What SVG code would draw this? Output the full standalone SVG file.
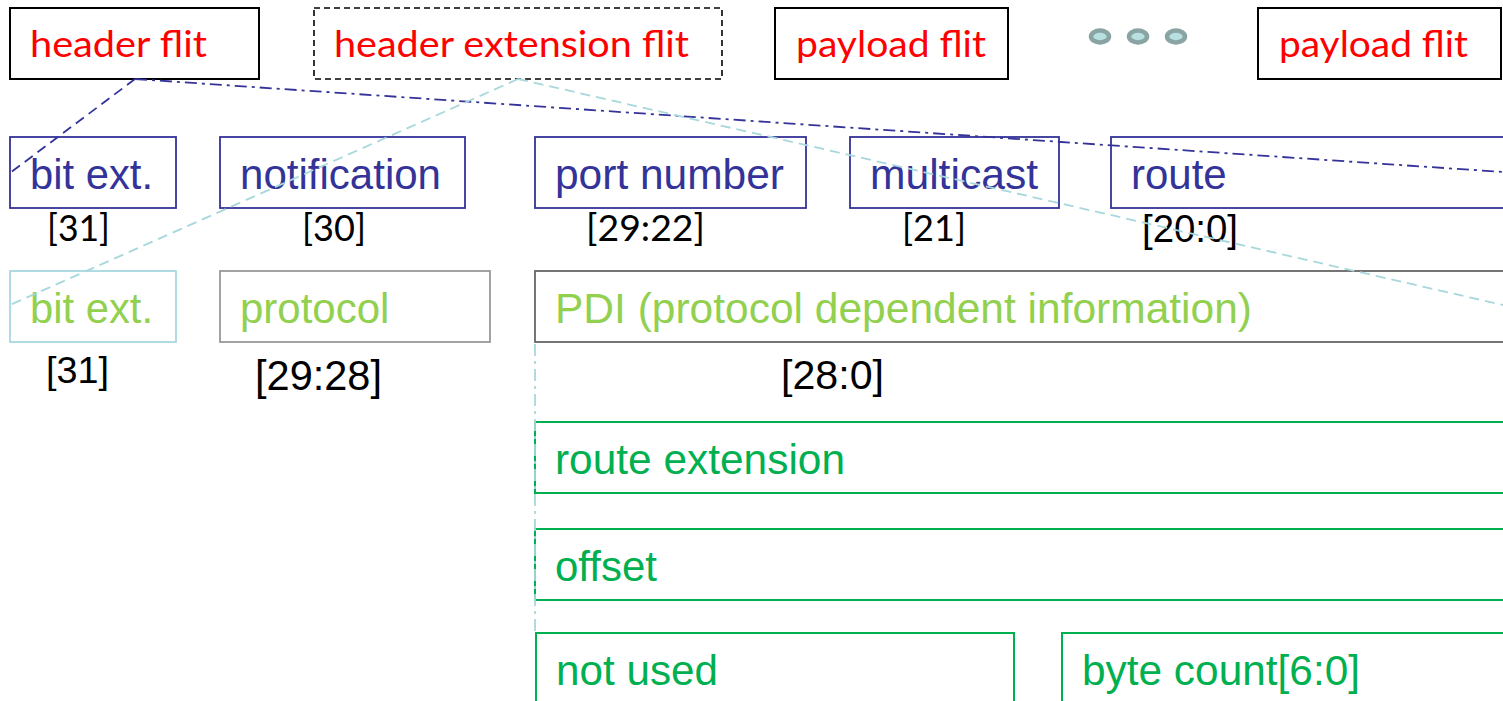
<svg xmlns="http://www.w3.org/2000/svg" width="1503" height="701" viewBox="0 0 1503 701">
  <style>
    .flit { fill: #fff; stroke: #000; stroke-width: 2; }
    .flit-opt { fill: #fff; stroke: #000; stroke-width: 1.6; stroke-dasharray: 6 4; }
    .flit-t { font-family: Lato, "Liberation Sans", sans-serif; font-size: 36px; fill: #ff0000; }
    .hdr { fill: #fff; stroke: #333399; stroke-width: 1.8; }
    .hdr-t { font-family: "Liberation Sans", Arial, sans-serif; font-size: 42px; fill: #333399; }
    .bits { font-family: Lato, "Liberation Sans", sans-serif; font-size: 37px; fill: #000; }
    .bits-a { font-family: "Liberation Sans", Arial, sans-serif; fill: #000; }
    .ext-t { font-family: "Liberation Sans", Arial, sans-serif; font-size: 42px; fill: #92d050; }
    .pl { fill: #fff; stroke: #00b050; stroke-width: 2; }
    .pl-t { font-family: "Liberation Sans", Arial, sans-serif; font-size: 42px; fill: #00b050; }
    .navy-dash { fill: none; stroke: #333399; stroke-width: 1.8; stroke-dasharray: 10 6; }
    .navy-dashdot { fill: none; stroke: #333399; stroke-width: 1.8; stroke-dasharray: 12 5 3 5; }
    .cyan-dash { fill: none; stroke: #a8d8dc; stroke-width: 1.8; stroke-dasharray: 10 6; }
    .cyan-dashdot { fill: none; stroke: #a8d8dc; stroke-width: 1.8; stroke-dasharray: 12 5 3 5; }
  </style>

  <!-- packet flit sequence -->
  <g id="header-flit">
    <rect class="flit" x="10" y="8" width="249" height="71"/>
    <text class="flit-t" x="30" y="57" textLength="177" lengthAdjust="spacingAndGlyphs">header flit</text>
  </g>
  <g id="header-extension-flit">
    <rect class="flit-opt" x="314" y="8" width="408" height="71"/>
    <text class="flit-t" x="334" y="57" textLength="355" lengthAdjust="spacingAndGlyphs">header extension flit</text>
  </g>
  <g id="payload-flit-1">
    <rect class="flit" x="775" y="8" width="233" height="71"/>
    <text class="flit-t" x="796" y="57" textLength="190" lengthAdjust="spacingAndGlyphs">payload flit</text>
  </g>
  <g id="ellipsis">
    <ellipse cx="1100" cy="36.5" rx="9" ry="6" fill="#b8e0e0" stroke="#8aa3a3" stroke-width="4.5"/>
    <ellipse cx="1138" cy="36.5" rx="9" ry="6" fill="#b8e0e0" stroke="#8aa3a3" stroke-width="4.5"/>
    <ellipse cx="1176" cy="36.5" rx="9" ry="6" fill="#b8e0e0" stroke="#8aa3a3" stroke-width="4.5"/>
  </g>
  <g id="payload-flit-n">
    <rect class="flit" x="1258" y="8" width="243" height="71"/>
    <text class="flit-t" x="1279" y="57" textLength="189" lengthAdjust="spacingAndGlyphs">payload flit</text>
  </g>

  <!-- header flit fields -->
  <g id="hdr-bit-ext">
    <rect class="hdr" x="10" y="137" width="166" height="71"/>
    <text class="hdr-t" x="30" y="189" textLength="123" lengthAdjust="spacingAndGlyphs">bit ext.</text>
    <text class="bits" x="47" y="241" textLength="63" lengthAdjust="spacingAndGlyphs">[31]</text>
  </g>
  <g id="hdr-notification">
    <rect class="hdr" x="220" y="137" width="245" height="71"/>
    <text class="hdr-t" x="240" y="189" textLength="201" lengthAdjust="spacingAndGlyphs">notification</text>
    <text class="bits" x="302" y="241" textLength="64" lengthAdjust="spacingAndGlyphs">[30]</text>
  </g>
  <g id="hdr-port-number">
    <rect class="hdr" x="535" y="137" width="271" height="71"/>
    <text class="hdr-t" x="555" y="189" textLength="229" lengthAdjust="spacingAndGlyphs">port number</text>
    <text class="bits" x="586" y="241" textLength="119" lengthAdjust="spacingAndGlyphs">[29:22]</text>
  </g>
  <g id="hdr-multicast">
    <rect class="hdr" x="850" y="137" width="209" height="71"/>
    <text class="hdr-t" x="870" y="189" textLength="168" lengthAdjust="spacingAndGlyphs">multicast</text>
    <text class="bits" x="902" y="241" textLength="64" lengthAdjust="spacingAndGlyphs">[21]</text>
  </g>
  <g id="hdr-route">
    <rect class="hdr" x="1111" y="137" width="400" height="71"/>
    <text class="hdr-t" x="1131" y="189">route</text>
    <text class="bits-a" x="1142" y="242" font-size="38" textLength="96" lengthAdjust="spacingAndGlyphs">[20:0]</text>
  </g>

  <!-- header extension flit fields -->
  <g id="ext-bit-ext">
    <rect x="10" y="271" width="166" height="71" fill="#fff" stroke="#a8d8e0" stroke-width="1.8"/>
    <text class="ext-t" x="30" y="323" textLength="123" lengthAdjust="spacingAndGlyphs">bit ext.</text>
    <text class="bits-a" x="46" y="383" font-size="37" textLength="63" lengthAdjust="spacingAndGlyphs">[31]</text>
  </g>
  <g id="ext-protocol">
    <rect x="220" y="271" width="270" height="71" fill="#fff" stroke="#999" stroke-width="1.8"/>
    <text class="ext-t" x="240" y="323">protocol</text>
    <text class="bits-a" x="255" y="390" font-size="42" textLength="127" lengthAdjust="spacingAndGlyphs">[29:28]</text>
  </g>
  <g id="ext-pdi">
    <rect x="535" y="271" width="976" height="71" fill="#fff" stroke="#666" stroke-width="1.8"/>
    <text class="ext-t" x="555" y="323" textLength="697" lengthAdjust="spacingAndGlyphs">PDI (protocol dependent information)</text>
    <text class="bits-a" x="781" y="389" font-size="41" textLength="103" lengthAdjust="spacingAndGlyphs">[28:0]</text>
  </g>

  <!-- PDI breakdown -->
  <g id="pdi-route-extension">
    <rect class="pl" x="535" y="422" width="976" height="71"/>
    <text class="pl-t" x="555" y="474" textLength="290" lengthAdjust="spacingAndGlyphs">route extension</text>
  </g>
  <g id="pdi-offset">
    <rect class="pl" x="535" y="529" width="976" height="71"/>
    <text class="pl-t" x="555" y="581">offset</text>
  </g>
  <g id="pdi-not-used">
    <rect class="pl" x="536" y="633" width="478" height="80"/>
    <text class="pl-t" x="556" y="685" textLength="162" lengthAdjust="spacingAndGlyphs">not used</text>
  </g>
  <g id="pdi-byte-count">
    <rect class="pl" x="1062" y="633" width="449" height="80"/>
    <text class="pl-t" x="1082" y="685" textLength="278" lengthAdjust="spacingAndGlyphs">byte count[6:0]</text>
  </g>

  <!-- expansion guides -->
  <g id="connectors">
    <line class="navy-dash" x1="135" y1="79" x2="10" y2="173"/>
    <line class="navy-dashdot" x1="135" y1="79" x2="1503" y2="172"/>
    <line class="cyan-dash" x1="518" y1="79" x2="10" y2="305"/>
    <line class="cyan-dash" x1="518" y1="79" x2="1503" y2="305"/>
    <line class="cyan-dashdot" x1="535" y1="344" x2="535" y2="633"/>
  </g>
</svg>
